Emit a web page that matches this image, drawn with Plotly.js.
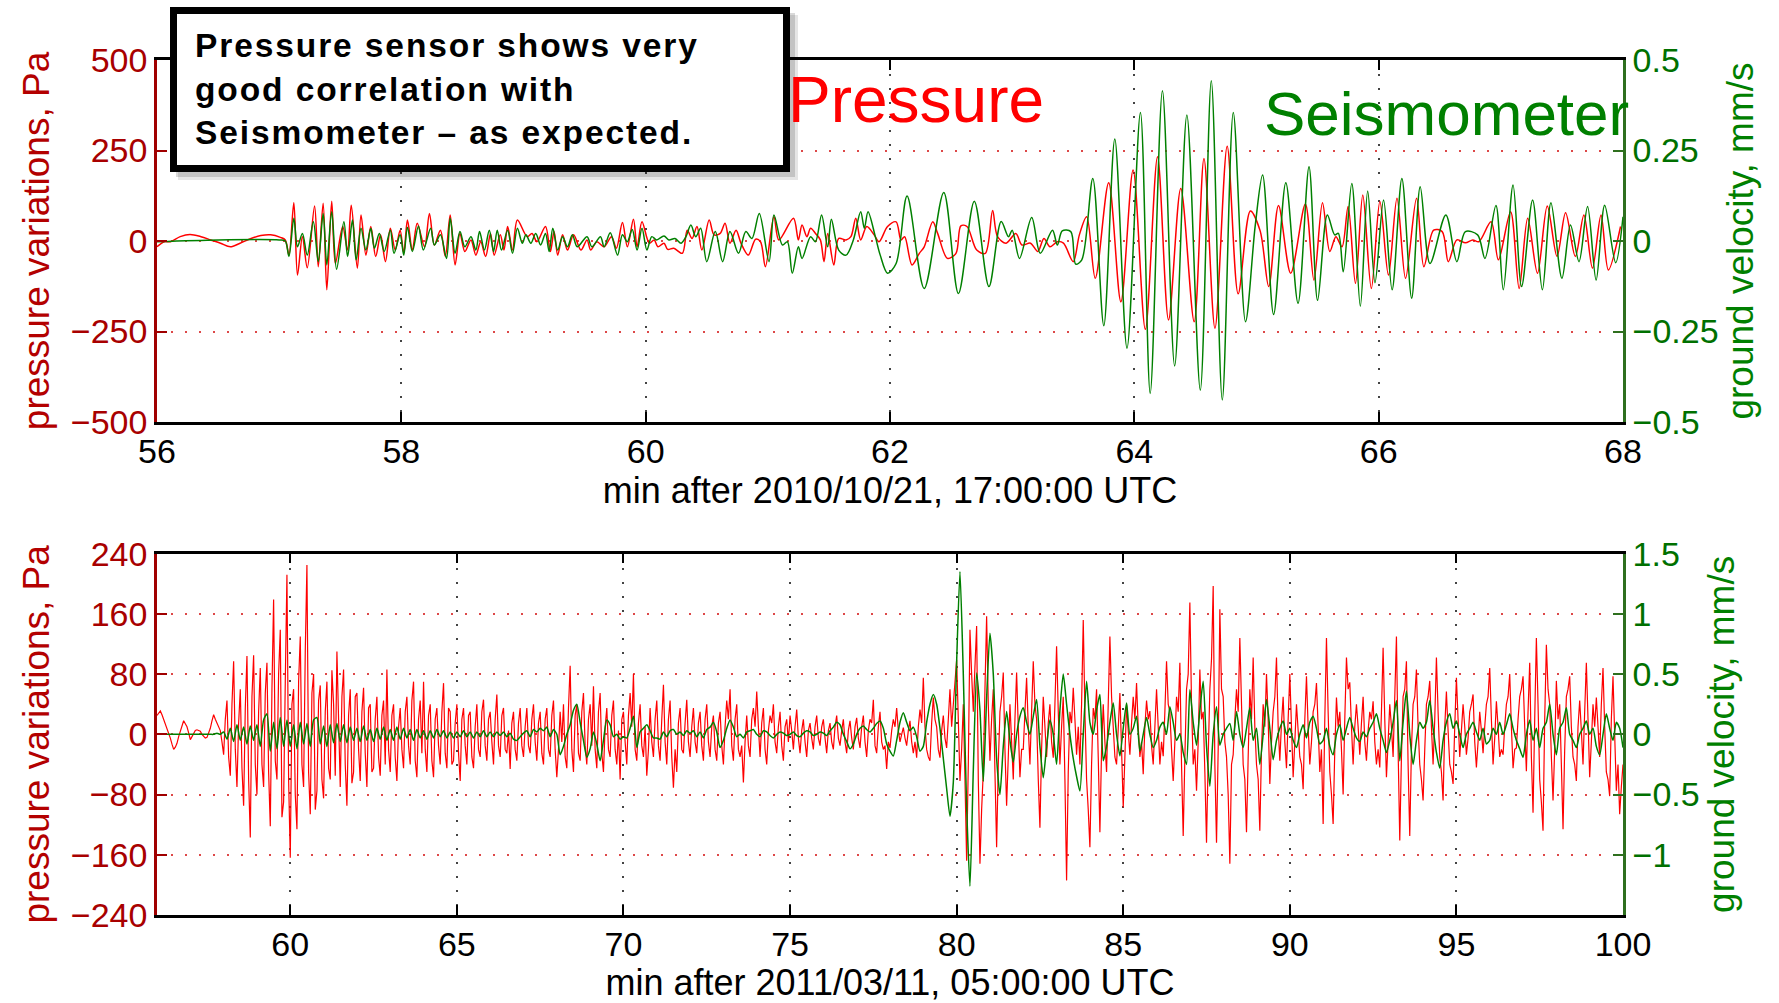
<!DOCTYPE html>
<html><head><meta charset="utf-8">
<script src="https://cdn.plot.ly/plotly-3.0.1.min.js"></script>
<style>
html,body{margin:0;padding:0;background:#fff;}
#chart{width:1779px;height:1003px;}
g.annotation[data-index="0"] text{letter-spacing:1.9px;}
</style>
</head><body><div id="chart"></div>
<script>
// ---------- Event 1: 2010/10/21 (min after 17:00:00 UTC) ----------
// pressure [minute, Pa]
const eq1Pressure = [
[56.00,-16],[56.06,-2],[56.11,-2],[56.19,12],[56.27,18],[56.36,12],[56.44,3],[56.52,-6],[56.60,-16],[56.68,-6],
[56.77,7],[56.85,15],[56.93,17],[57.01,10],[57.05,3],[57.08,-39],[57.12,106],[57.15,-94],[57.19,12],[57.23,-74],
[57.29,97],[57.32,-71],[57.36,104],[57.39,-135],[57.43,110],[57.46,-62],[57.52,40],[57.56,-25],[57.59,99],[57.64,-75],
[57.67,72],[57.71,-39],[57.75,40],[57.79,-43],[57.83,17],[57.87,-57],[57.91,35],[57.95,-25],[57.99,30],[58.02,-34],
[58.05,58],[58.09,-25],[58.13,49],[58.19,-16],[58.23,76],[58.27,-11],[58.32,30],[58.36,-43],[58.40,72],[58.44,-66],
[58.48,21],[58.52,-29],[58.57,3],[58.61,-39],[58.65,-2],[58.69,-43],[58.73,21],[58.76,-39],[58.81,17],[58.84,-25],
[58.87,40],[58.91,-25],[58.95,58],[59.03,12],[59.07,21],[59.11,-2],[59.18,40],[59.22,-29],[59.25,26],[59.28,-39],
[59.32,17],[59.36,-25],[59.41,17],[59.47,-25],[59.52,3],[59.55,-25],[59.60,-2],[59.66,-16],[59.72,12],[59.76,-20],
[59.81,51],[59.85,-16],[59.90,60],[59.93,-16],[59.97,53],[60.03,-6],[60.07,3],[60.10,-16],[60.15,-6],[60.18,-23],
[60.23,-20],[60.30,-34],[60.34,30],[60.38,7],[60.42,40],[60.46,-25],[60.52,58],[60.56,17],[60.61,21],[60.65,49],
[60.69,-6],[60.74,30],[60.78,-6],[60.84,-39],[60.90,5],[60.94,-2],[60.98,-71],[61.05,67],[61.09,3],[61.21,63],
[61.25,3],[61.28,44],[61.32,12],[61.35,35],[61.39,21],[61.43,3],[61.46,-57],[61.49,21],[61.54,-66],[61.58,7],
[61.64,3],[61.68,12],[61.72,63],[61.76,3],[61.81,40],[61.87,17],[61.91,-2],[61.98,40],[62.05,53],[62.09,3],
[62.12,12],[62.18,-66],[62.24,-34],[62.28,-16],[62.35,53],[62.39,21],[62.47,-48],[62.54,-34],[62.58,42],[62.63,40],
[62.71,-25],[62.78,-34],[62.84,84],[62.88,12],[62.95,-6],[63.03,21],[63.08,-11],[63.15,-6],[63.21,-29],[63.26,7],
[63.31,-16],[63.37,-2],[63.42,-6],[63.50,-57],[63.55,17],[63.61,67],[63.68,-103],[63.79,161],[63.89,-168],[63.99,196],
[64.09,-244],[64.19,233],[64.28,-218],[64.38,145],[64.49,-223],[64.57,228],[64.66,-241],[64.76,262],[64.85,-146],[64.95,83],
[65.03,28],[65.10,-126],[65.18,98],[65.28,-89],[65.40,102],[65.47,-108],[65.54,106],[65.60,-29],[65.65,12],[65.70,-16],
[65.75,95],[65.81,-117],[65.87,127],[65.94,-131],[66.01,109],[66.08,-94],[66.15,118],[66.22,-103],[66.31,118],[66.37,-71],
[66.45,30],[66.52,26],[66.57,-57],[66.64,3],[66.71,-5],[66.77,3],[66.82,-2],[66.92,53],[66.98,-52],[67.08,81],
[67.15,-131],[67.22,63],[67.30,-89],[67.38,97],[67.46,-43],[67.53,78],[67.61,-43],[67.68,72],[67.75,-75],[67.82,72],
[67.88,-80],[67.98,40]
];
// ground velocity [minute, mm/s]
const eq1Velocity = [
[56.00,-0.002],[56.50,0.003],[57.00,0.003],[57.05,0.0],[57.08,-0.043],[57.12,0.063],[57.15,-0.016],[57.19,0.021],[57.23,-0.039],[57.28,0.053],
[57.32,-0.057],[57.36,0.076],[57.39,-0.066],[57.43,0.081],[57.47,-0.078],[57.53,0.053],[57.56,-0.043],[57.60,0.058],[57.63,-0.052],[57.67,0.035],
[57.71,-0.025],[57.75,0.035],[57.78,-0.020],[57.82,0.021],[57.86,-0.029],[57.91,0.030],[57.94,-0.034],[57.99,0.017],[58.02,-0.039],[58.05,0.038],
[58.09,-0.029],[58.14,0.041],[58.18,-0.025],[58.24,0.035],[58.27,-0.011],[58.32,0.017],[58.37,-0.048],[58.40,0.063],[58.44,-0.034],[58.48,0.026],
[58.52,-0.016],[58.57,0.012],[58.61,-0.025],[58.64,0.026],[58.68,-0.025],[58.72,0.030],[58.755,-0.029],[58.785,0.030],[58.82,-0.025],[58.87,0.030],
[58.91,-0.034],[58.95,0.035],[58.99,-0.006],[59.02,0.017],[59.06,-0.006],[59.10,0.021],[59.14,-0.011],[59.18,0.021],[59.21,-0.029],[59.24,0.035],
[59.28,-0.025],[59.32,0.012],[59.36,-0.016],[59.40,0.017],[59.44,-0.016],[59.52,0.012],[59.56,-0.016],[59.63,0.012],[59.66,-0.016],[59.71,0.023],
[59.77,-0.039],[59.81,0.017],[59.85,-0.002],[59.89,0.032],[59.93,-0.025],[59.97,0.035],[60.01,-0.025],[60.05,0.012],[60.09,0.003],[60.15,0.014],
[60.19,0.003],[60.24,0.007],[60.29,-0.006],[60.33,0.012],[60.37,0.044],[60.41,0.012],[60.45,0.035],[60.50,-0.057],[60.57,0.026],[60.63,-0.057],
[60.69,0.026],[60.76,-0.034],[60.82,0.026],[60.87,0.007],[60.93,0.076],[61.01,-0.057],[61.05,0.072],[61.12,-0.011],[61.16,-0.002],[61.20,-0.089],
[61.25,-0.016],[61.28,-0.048],[61.35,0.012],[61.39,-0.002],[61.44,0.072],[61.49,-0.016],[61.52,0.060],[61.58,-0.025],[61.64,-0.039],[61.70,0.003],
[61.76,0.081],[61.79,0.035],[61.82,0.081],[61.88,0.012],[61.92,-0.039],[61.98,-0.089],[62.05,-0.062],[62.14,0.124],[62.28,-0.131],[62.44,0.134],
[62.56,-0.145],[62.69,0.110],[62.81,-0.126],[62.91,0.054],[62.97,0.012],[63.00,0.030],[63.06,-0.048],[63.16,0.065],[63.23,-0.034],[63.33,0.030],
[63.37,-0.011],[63.41,0.028],[63.48,0.026],[63.52,-0.064],[63.57,-0.052],[63.66,0.173],[63.75,-0.234],[63.84,0.282],[63.94,-0.296],[64.05,0.355],
[64.13,-0.421],[64.23,0.415],[64.33,-0.345],[64.43,0.348],[64.54,-0.412],[64.63,0.443],[64.72,-0.439],[64.81,0.355],[64.91,-0.223],[64.99,0.044],
[65.05,0.182],[65.14,-0.203],[65.24,0.161],[65.34,-0.172],[65.43,0.205],[65.50,-0.164],[65.58,0.072],[65.64,0.017],[65.67,0.021],[65.71,-0.085],
[65.78,0.159],[65.85,-0.180],[65.91,0.138],[65.97,-0.115],[66.04,0.113],[66.11,-0.135],[66.19,0.173],[66.27,-0.158],[66.34,0.150],[66.42,-0.062],
[66.55,0.072],[66.64,-0.057],[66.71,0.026],[66.81,0.017],[66.87,-0.048],[66.96,0.098],[67.02,-0.135],[67.10,0.155],[67.17,-0.126],[67.26,0.113],
[67.34,-0.135],[67.41,0.106],[67.50,-0.103],[67.57,0.044],[67.64,-0.057],[67.71,0.095],[67.78,-0.108],[67.85,0.099],[67.94,-0.060],[68.00,0.067]
];

// ---------- Event 2: 2011/03/11 (min after 05:00:00 UTC) ----------
// pressure sampled every 0.05 min from 56, velocity every 0.1 min from 56
const eq2Start = 56, eq2PressureStep = 0.05, eq2VelocityStep = 0.1;
const eq2Pressure = [
 25,28,31,26,20,14,9,2,-5,-13,-20,-17,-12,-3,5,12,18,14,10,2,                       // 56
 -7,-3,2,5,6,5,4,0,-3,-5,-4,2,8,18,26,20,15,9,5,-10,                                 // 57
 -27,20,45,-30,-55,40,97,-20,-70,15,60,-45,-95,35,104,-60,-137,50,105,-40,           // 58
 -80,30,88,-40,-70,55,95,-50,-122,60,179,-35,-60,80,139,-110,-90,70,212,-60,         // 59
 -164,40,60,-80,-126,70,130,-40,-70,110,225,-50,-106,55,80,-100,-75,45,65,-60,       // 60
 -85,30,70,-45,-60,85,40,-55,110,20,-70,50,86,-40,-95,25,60,-65,-50,50,              // 61
 55,-20,-62,30,62,-25,-70,35,40,-50,-45,20,50,-30,-55,25,45,-40,86,-20,              // 62
 -50,25,40,-30,-62,10,35,-20,-45,30,50,-15,-40,45,70,-35,-57,20,45,-25,              // 63
 70,-20,-50,25,40,-35,-57,20,35,-15,-40,30,68,-25,-45,35,30,-40,-35,15,              // 64
 40,-25,-62,20,35,-15,-40,25,30,-30,-45,10,40,-20,-30,30,46,-15,-35,20,              // 65
 30,-10,-40,20,53,-15,-30,25,35,-20,-25,5,-46,15,30,-20,-35,15,35,-15,               // 66
 -30,10,35,-15,-25,20,40,-10,-35,15,30,-25,-40,20,35,-20,-30,25,45,-20,              // 67
 -57,-20,30,-10,40,-30,-45,35,91,-20,-50,25,40,-25,-35,30,55,-15,-40,20,             // 68
 40,-15,64,-20,-45,30,55,-25,-50,10,35,-20,-30,25,45,-20,-40,5,-60,20,               // 69
 30,-10,-40,25,55,10,80,-20,-35,15,40,-15,-30,10,-55,-20,35,-10,-30,20,              // 70
 45,-15,-35,20,66,-10,-40,20,45,-30,-71,-20,-50,15,35,-20,-25,15,46,-10,             // 71
 -30,10,35,-10,-25,15,30,-15,-35,20,40,-10,-30,10,25,-20,-35,15,30,-15,              // 72
 -40,10,45,20,60,-15,-35,20,40,-20,-30,-15,-64,-10,25,-15,-30,20,35,10,              // 73
 57,10,-30,15,35,-20,-40,5,25,15,40,-10,-25,10,30,-15,-35,10,20,-10,                 // 74
 25,5,-20,10,33,-5,-25,5,20,-10,-30,5,15,-5,-20,10,25,-5,-15,10,                     // 75
 20,-5,-25,5,15,-10,-20,10,25,-5,-15,5,20,-10,-25,5,18,-5,-20,10,                    // 76
 22,-5,-18,10,25,-10,-30,5,20,15,46,-15,-25,10,30,-10,-20,-15,-46,-10,               // 77
 -18,5,20,10,35,5,-10,0,9,-5,-15,5,18,-10,-25,-10,-31,10,33,15,                      // 78
 75,10,-20,-30,-35,15,49,20,10,-20,-31,5,25,-5,-18,20,60,10,40,60,                   // 79
 99,20,-62,-20,40,-60,-168,-40,139,80,30,90,144,-60,-172,-100,-50,60,157,40,         // 80
 -35,20,60,-50,-150,-40,30,50,82,-20,-95,-30,40,-10,-60,20,82,10,-57,-20,            // 81
 -20,30,75,10,-40,30,97,40,20,-60,-124,-20,50,10,-30,15,40,-10,-31,40,               // 82
 117,30,-40,10,50,-60,-194,-50,30,15,62,20,-27,10,-40,40,152,30,-60,-100,            // 83
 -150,-40,35,20,60,-30,-130,-20,40,-10,-50,40,130,50,0,-30,-40,10,55,-20,            // 84
 -97,-30,40,5,-27,15,50,20,68,10,-30,-10,-53,10,45,20,31,-15,-40,10,                 // 85
 60,10,-40,-10,-29,30,97,40,30,-20,-62,-10,50,30,95,-40,-135,-30,60,80,              // 86
 175,40,-40,-20,-75,-10,86,20,30,-50,-144,-30,60,100,197,-40,-144,-20,166,60,        // 87
 50,-10,-30,-80,-172,-40,-27,20,60,30,128,40,-40,-60,-130,-30,60,20,102,10,          // 88
 -40,-60,-128,-20,40,10,80,20,-66,-10,30,50,102,10,-35,15,50,-10,-45,20,             // 89
 80,10,-57,-10,40,5,-30,-40,-73,20,77,10,-40,-10,30,40,68,10,-50,-20,                // 90
 -119,20,128,30,-50,-80,-119,-20,49,10,30,-20,-80,20,102,60,69,10,-40,10,            // 91
 40,10,-27,15,50,-10,-35,5,30,20,44,-10,-40,-20,-44,30,115,20,-57,-10,               // 92
 40,10,-30,50,130,-20,-141,-30,50,60,97,-40,-135,-20,40,50,86,10,-40,-60,            // 93
 -88,-20,40,50,71,10,-40,20,102,30,-30,-50,-88,10,57,5,-40,-50,-66,10,               // 94
 75,20,-30,5,40,10,-27,-5,30,40,53,-10,-44,-10,30,5,-25,10,40,50,                    // 95
 88,20,-40,-5,44,10,-30,-20,-27,10,40,50,80,10,-45,-20,-18,20,50,60,                 // 96
 77,10,-49,30,95,-30,-104,20,128,40,-60,-90,-128,20,119,60,40,-30,-88,-20,           // 97
 71,20,40,-40,-126,-20,50,60,77,10,-30,-40,-62,10,45,5,-40,30,95,20,                 // 98
 -57,-10,40,10,49,10,-30,40,88,10,-50,-60,-82,20,77,0,-75,-40,-106,-70,              // 99
 -40                                                                                  // 100
];
const eq2Velocity = [
 0,0,0,0,0,0,0,0,0,0,                                        // 56
 0,0,0,0,0,0,0,0,0.01,0,                                     // 57
 0.02,-0.04,0.05,-0.06,0.08,-0.05,0.06,-0.08,0.07,-0.05,     // 58
 0.08,-0.1,0.12,0.17,-0.14,0.1,-0.12,0.14,-0.1,0.12,         // 59
 -0.1,0.08,-0.12,0.1,-0.08,0.09,-0.1,0.12,0.14,-0.08,        // 60
 0.07,-0.1,0.08,-0.07,0.09,-0.06,0.08,-0.07,0.06,-0.05,      // 61
 0.05,-0.06,0.07,-0.05,0.04,-0.06,0.05,-0.04,0.06,-0.05,     // 62
 0.04,-0.05,0.06,-0.04,0.05,-0.03,0.04,-0.05,0.04,-0.03,     // 63
 0.03,-0.04,0.03,-0.03,0.04,-0.02,0.03,-0.03,0.02,-0.03,     // 64
 0.02,-0.02,0.03,-0.02,0.02,-0.03,0.02,-0.02,0.03,-0.02,     // 65
 0.02,-0.02,0.02,-0.01,0.02,-0.02,0.01,-0.04,-0.05,-0.02,    // 66
 0.01,0.03,-0.02,0.04,0.02,0.05,0.03,0.06,-0.02,0.04,        // 67
 0.0,-0.17,-0.1,0.0,0.08,0.2,0.25,0.1,-0.05,-0.19,           // 68
 -0.12,0.02,-0.08,-0.22,-0.05,0.12,0.08,-0.02,0.0,-0.04,     // 69
 -0.02,-0.03,0.05,0.15,-0.11,0.02,0.05,0.08,0.03,-0.03,      // 70
 -0.03,-0.04,0.02,-0.02,0.03,0.04,0.0,0.02,-0.01,0.03,       // 71
 0.01,0.03,-0.02,0.02,-0.03,0.04,0.06,0.1,0.02,-0.11,        // 72
 -0.05,0.05,0.12,0.06,-0.02,0.0,-0.03,0.02,0.03,0.04,        // 73
 0.0,-0.02,0.03,0.02,-0.01,-0.03,0.0,0.02,0.01,-0.01,        // 74
 0.0,0.02,-0.01,-0.02,0.01,0.03,0.02,-0.01,0.0,0.02,         // 75
 0.01,-0.01,0.03,0.06,0.1,0.08,0.0,-0.06,-0.12,-0.08,        // 76
 0.0,0.05,0.07,0.04,0.02,0.05,0.09,0.11,0.05,-0.08,          // 77
 -0.14,-0.18,-0.05,0.1,0.18,0.1,0.03,0.06,-0.02,-0.14,       // 78
 -0.1,0.1,0.25,0.33,0.25,0.05,-0.2,-0.45,-0.68,-0.4,         // 79
 0.6,1.35,0.5,-0.6,-1.26,-0.3,0.51,0.2,-0.39,0.3,            // 80
 0.84,0.5,-0.2,-0.5,-0.1,0.19,-0.05,-0.23,0.0,0.15,          // 81
 0.22,0.1,0.0,0.15,0.29,-0.1,-0.36,-0.1,0.12,0.0,            // 82
 -0.25,0.2,0.5,0.25,0.0,-0.2,-0.35,-0.47,0.0,0.44,           // 83
 0.1,0.0,0.2,0.33,-0.22,-0.1,0.1,0.26,0.0,-0.18,             // 84
 0.05,0.26,0.0,0.05,0.15,-0.14,0.0,0.14,0.0,-0.11,           // 85
 -0.05,0.06,0.1,0.0,0.23,0.1,-0.05,0.0,-0.15,-0.25,          // 86
 0.37,0.1,-0.09,0.2,0.44,-0.1,-0.43,0.0,0.23,-0.09,          // 87
 0.0,0.05,0.09,-0.05,0.19,0.0,-0.11,0.05,0.22,-0.05,         // 88
 0.05,-0.25,0.0,0.29,0.05,-0.21,-0.05,0.05,0.11,0.0,         // 89
 0.05,-0.05,-0.11,0.0,0.08,-0.03,0.1,0.15,0.05,-0.08,        // 90
 -0.05,0.05,-0.1,-0.17,0.0,0.08,-0.05,0.05,0.14,0.05,        // 91
 -0.03,-0.06,0.02,-0.02,0.05,0.1,0.17,0.05,-0.05,-0.15,      // 92
 -0.05,0.1,0.28,-0.22,0.1,0.36,0.0,-0.25,-0.05,0.1,          // 93
 0.05,0.1,0.28,0.05,-0.15,-0.28,-0.05,0.1,0.17,0.05,         // 94
 0.11,0.0,-0.11,0.0,0.05,0.1,0.02,-0.05,0.05,-0.08,          // 95
 -0.05,0.05,0.0,0.1,0.0,0.08,0.17,0.05,-0.05,-0.12,          // 96
 -0.19,0.0,0.12,-0.05,0.05,-0.11,0.05,0.1,0.25,0.0,          // 97
 -0.17,0.05,0.1,0.22,0.0,-0.05,-0.11,0.0,0.05,0.11,          // 98
 0.0,0.05,-0.1,-0.17,0.0,0.17,0.05,-0.05,0.1,0.05,           // 99
 -0.11                                                        // 100
];

// ---------- text ----------
const xTitle1 = 'min after 2010/10/21, 17:00:00 UTC';
const xTitle2 = 'min after 2011/03/11, 05:00:00 UTC';
const yTitleLeft = 'pressure variations, Pa';
const yTitleRight = 'ground velocity, mm/s';
const noteLines = ['Pressure sensor shows very', 'good correlation with', 'Seismometer \u2013 as expected.'];
const label1 = 'Pressure', label2 = 'Seismometer';
const vel2TickVals = [-1, -0.5, 0, 0.5, 1, 1.5];
const vel2TickText = ['\u22121', '\u22120.5', '0', '0.5', '1', '1.5'];

// ---------- styling ----------
const FONT = 'Liberation Sans, Arial, Helvetica, sans-serif';
const RED = '#ff0000', GREEN = '#008000';
const RED_AX = '#a00000', GREEN_AX = '#2f6f1f';
const RED_TXT = '#a80000', GREEN_TXT = '#007000';
const DOT = '2px,12px';

const traces = [
  {x: eq1Pressure.map(p => p[0]), y: eq1Pressure.map(p => p[1]), xaxis: 'x', yaxis: 'y',
   type: 'scatter', mode: 'lines', line: {color: RED, width: 1.5, shape: 'spline', smoothing: 0.9}, hoverinfo: 'skip'},
  {x: eq1Velocity.map(p => p[0]), y: eq1Velocity.map(p => p[1]), xaxis: 'x', yaxis: 'y2',
   type: 'scatter', mode: 'lines', line: {color: GREEN, width: 1.5, shape: 'spline', smoothing: 0.9}, hoverinfo: 'skip'},
  {x0: eq2Start, dx: eq2PressureStep, y: eq2Pressure, xaxis: 'x2', yaxis: 'y3',
   type: 'scatter', mode: 'lines', line: {color: RED, width: 1.2}, hoverinfo: 'skip'},
  {x0: eq2Start, dx: eq2VelocityStep, y: eq2Velocity, xaxis: 'x2', yaxis: 'y4',
   type: 'scatter', mode: 'lines', line: {color: GREEN, width: 1.5, shape: 'spline', smoothing: 0.6}, hoverinfo: 'skip'}
];

function xAxis(anchor, range, dtick, tick0, title) {
  return {anchor: anchor, domain: [0, 1], range: range, dtick: dtick, tick0: tick0,
    ticks: 'inside', ticklen: 10, tickwidth: 2, tickcolor: '#000', ticklabelstandoff: -3,
    showline: true, linecolor: '#000', linewidth: 2.5, mirror: 'ticks',
    showgrid: true, gridcolor: '#444', gridwidth: 1.5, griddash: DOT, zeroline: false,
    tickfont: {family: FONT, size: 34, color: '#000'},
    title: {text: title, font: {family: FONT, size: 36, color: '#000'}, standoff: 8}};
}
function yLeft(domain, anchor, range, dtick) {
  return {domain: domain, anchor: anchor, range: range, dtick: dtick,
    ticks: 'inside', ticklen: 10, tickwidth: 2, tickcolor: RED_AX,
    showline: true, linecolor: RED_AX, linewidth: 2.5,
    showgrid: true, gridcolor: 'rgba(215,40,40,0.85)', gridwidth: 1.5, griddash: DOT, zeroline: false,
    tickfont: {family: FONT, size: 34, color: RED_TXT},
    title: {text: yTitleLeft, font: {family: FONT, size: 37, color: '#b30000'}, standoff: 10}};
}
function yRight(over, anchor, range, extra) {
  return Object.assign({overlaying: over, anchor: anchor, side: 'right', range: range,
    ticks: 'inside', ticklen: 10, tickwidth: 2, tickcolor: GREEN_AX,
    showline: true, linecolor: GREEN_AX, linewidth: 2.5, showgrid: false, zeroline: false,
    tickfont: {family: FONT, size: 34, color: GREEN_TXT},
    title: {text: yTitleRight, font: {family: FONT, size: 37, color: GREEN}, standoff: 10}}, extra);
}

// plot area: x 157..1623 px, y 60..915 px
const px = X => (X - 157) / 1466;
const py = Y => (915 - Y) / 855;

const layout = {
  width: 1779, height: 1003,
  margin: {l: 157, r: 156, t: 60, b: 88, pad: 0},
  paper_bgcolor: '#fff', plot_bgcolor: '#fff', showlegend: false,
  font: {family: FONT, size: 34, color: '#000'},
  xaxis: xAxis('y', [56, 68], 2, 56, xTitle1),
  yaxis: yLeft([0.5766, 1], 'x', [-500, 500], 250),
  yaxis2: yRight('y', 'x', [-0.5, 0.5], {dtick: 0.25}),
  xaxis2: xAxis('y3', [56, 100], 5, 0, xTitle2),
  yaxis3: yLeft([0, 0.4226], 'x2', [-240, 240], 80),
  yaxis4: yRight('y3', 'x2', [-1.5, 1.5], {tickmode: 'array', tickvals: vel2TickVals, ticktext: vel2TickText}),
  shapes: [
    {type: 'rect', xref: 'paper', yref: 'paper', layer: 'above',
     x0: px(178), x1: px(798), y0: py(180), y1: py(15), fillcolor: 'rgba(0,0,0,0.10)', line: {width: 0}},
    {type: 'rect', xref: 'paper', yref: 'paper', layer: 'above',
     x0: px(176), x1: px(795), y0: py(177), y1: py(13), fillcolor: 'rgba(0,0,0,0.15)', line: {width: 0}},
    {type: 'rect', xref: 'paper', yref: 'paper', layer: 'above',
     x0: px(173.5), x1: px(786.5), y0: py(168.5), y1: py(10.5), fillcolor: '#ffffff', line: {color: '#000', width: 7}}
  ],
  annotations: [
    {xref: 'paper', yref: 'paper', x: px(193), y: py(89), xanchor: 'left', yanchor: 'middle', align: 'left',
     showarrow: false, text: '<b>' + noteLines.join('<br>') + '</b>',
     font: {family: FONT, size: 33.5, color: '#000'}},
    {xref: 'paper', yref: 'paper', x: px(786), y: py(100), xanchor: 'left', yanchor: 'middle',
     showarrow: false, text: label1, font: {family: FONT, size: 64, color: RED}},
    {xref: 'paper', yref: 'paper', x: px(1262), y: py(113), xanchor: 'left', yanchor: 'middle',
     showarrow: false, text: label2, font: {family: FONT, size: 62, color: GREEN}}
  ]
};

Plotly.newPlot('chart', traces, layout, {displayModeBar: false, responsive: false});
</script></body></html>
